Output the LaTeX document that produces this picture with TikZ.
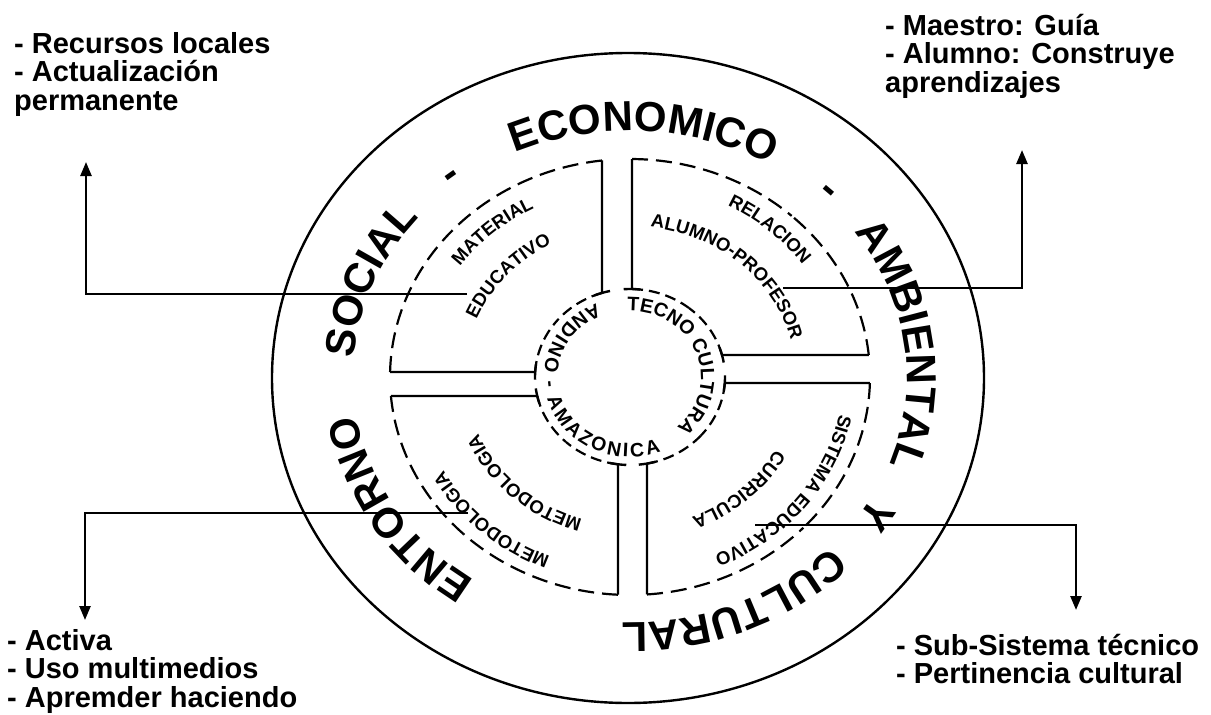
\documentclass[tikz,border=0pt]{standalone}
\usepackage{fontspec}
\setmainfont{Liberation Sans}
\usetikzlibrary{arrows.meta, calc, decorations.text}

\newcommand{\ringfont}{\bfseries\fontsize{42}{42}\selectfont}
\newcommand{\quadfont}{\bfseries\fontsize{18.5}{18.5}\selectfont}
\newcommand{\corefont}{\bfseries\fontsize{19.5}{19.5}\selectfont}
\newcommand{\notefont}{\bfseries\fontsize{29}{28.5}\selectfont}

% a word set along an elliptic arc round (ctr): [alignment] mid angle, half span, x radius, y radius, text
\newcommand{\arcword}[6][center]{%
  \pgfmathsetmacro\wordS{#2+#3}%
  \pgfmathsetmacro\wordE{#2-#3}%
  \path[decorate, decoration={text along path, text align={#1}, text={#6}}]
    ($(ctr)+(\wordS:#4 and #5)$) arc[start angle=\wordS, end angle=\wordE, x radius=#4, y radius=#5];%
}

\begin{document}
\begin{tikzpicture}[x=1pt, y=1pt,
    rim/.style={line width=2.4pt},
    ringline/.style={line width=2.2pt, dash pattern=on 16pt off 8pt},
    coreline/.style={line width=2.2pt, dash pattern=on 11pt off 6pt},
    wall/.style={line width=2.4pt},
    conn/.style={line width=2.5pt, -{Triangle[length=14pt, width=11pt]}},
    note/.style={font=\notefont, align=left, inner sep=0pt, anchor=north west}]

    \useasboundingbox (0,0) rectangle (1211,-715);

    % Centres
    \coordinate (ctr) at (630,-377);
    \coordinate (rimc) at (628,-378);

    % The outer rim
    \draw[rim] (rimc) ellipse [x radius=356pt, y radius=325pt];

    % Dashed rings, each piece drawn from its walls towards its middle
    \foreach \sa/\ea in {5.79/89.52, 96.70/178.69, 185.0/267.13, 274.06/358.42}{
        \pgfmathsetmacro\midang{(\sa+\ea)/2}
        \draw[ringline] ($(ctr)+(\sa:240pt and 218pt)$) arc[start angle=\sa, end angle=\midang, x radius=240pt, y radius=218pt];
        \draw[ringline] ($(ctr)+(\ea:240pt and 218pt)$) arc[start angle=\ea, end angle=\midang, x radius=240pt, y radius=218pt];
    }
    \foreach \sa/\ea in {14.48/88.79, 107.14/176.74, 192.47/262.74, 280.31/356.09}{
        \pgfmathsetmacro\midang{(\sa+\ea)/2}
        \draw[coreline] ($(ctr)+(\sa:95pt and 88pt)$) arc[start angle=\sa, end angle=\midang, x radius=95pt, y radius=88pt];
        \draw[coreline] ($(ctr)+(\ea:95pt and 88pt)$) arc[start angle=\ea, end angle=\midang, x radius=95pt, y radius=88pt];
    }

    % Walls of the four channels
    \foreach \ti/\tm in {107.14/96.70, 88.79/89.52, 14.48/5.79, -3.91/-1.58, 262.74/267.13, 280.31/274.06, 176.74/178.69, 192.47/185.0}{
        \pgfmathsetmacro\tickA{\ti-5}
        \pgfmathsetmacro\tickB{\ti+5}
        \draw[wall] ($(ctr)+(\ti:95pt and 88pt)$) -- ($(ctr)+(\tm:240pt and 218pt)$);
        \draw[wall] ($(ctr)+(\tickA:95pt and 88pt)$) arc[start angle=\tickA, end angle=\tickB, x radius=95pt, y radius=88pt];
    }

    % Words round the rim
    \arcword{211.5}{40}{277pt}{246pt}{|\ringfont|ENTORNO}
    \arcword{158.3}{40}{277pt}{246pt}{|\ringfont|SOCIAL}
    \arcword{129}{20}{277pt}{246pt}{|\ringfont|-}
    \arcword{87}{40}{277pt}{246pt}{|\ringfont|ECONOMICO}
    \arcword{45.8}{20}{277pt}{246pt}{|\ringfont|-}
    \arcword{7.5}{40}{277pt}{246pt}{|\ringfont|AMBIENTAL}
    \arcword{-31.6}{20}{277pt}{246pt}{|\ringfont|Y}
    \arcword{-67}{40}{277pt}{246pt}{|\ringfont|CULTURAL}

    % Quadrants
    \arcword{131.6}{35}{209pt}{190pt}{|\quadfont|MATERIAL}
    \arcword{138.9}{45}{166pt}{151pt}{|\quadfont|EDUCATIVO}
    \arcword{48.3}{35}{212pt}{193pt}{|\quadfont|RELACION}
    \arcword{47.4}{60}{166pt}{151pt}{|\quadfont|ALUMNO-PROFESOR}
    \arcword{227.6}{40}{213pt}{194pt}{|\quadfont|METODOLOGIA}
    \arcword{226.8}{45}{164pt}{149pt}{|\quadfont|METODOLOGIA}
    \arcword{-38.1}{45}{213pt}{194pt}{|\quadfont|SISTEMA EDUCATIVO}
    \arcword{-47.7}{40}{166pt}{151pt}{|\quadfont|CURRICULA}

    % Core
    \arcword{21.5}{85}{71pt}{66pt}{|\corefont|TECNO CULTURA}
    \arcword[fit to path]{202}{-89}{86pt}{80pt}{|\corefont|ANDINO - AMAZONICA}

    % Notes
    \node[note] (recursos) at (14,-32.2) {- Recursos locales\\- Actualización\\permanente};
    \node[note] (maestro) at (885,-14) {- Maestro: Guía\\- Alumno: Construye\\aprendizajes};
    \node[note] (activa) at (7,-629.2) {- Activa\\- Uso multimedios\\- Apremder haciendo};
    \node[note] (subsis) at (896,-634) {- Sub-Sistema técnico\\- Pertinencia cultural};

    % Arrows to the notes
    \coordinate (recFrom) at (467,-294);
    \coordinate (recTip) at (86,-162);
    \draw[conn] (recFrom) -| (recTip);
    \coordinate (maeFrom) at (783,-288);
    \coordinate (maeTip) at (1022,-150);
    \draw[conn] (maeFrom) -| (maeTip);
    \coordinate (actFrom) at (468,-513);
    \coordinate (actTip) at (85,-620);
    \draw[conn] (actFrom) -| (actTip);
    \coordinate (subFrom) at (755,-525);
    \coordinate (subTip) at (1076,-610);
    \draw[conn] (subFrom) -| (subTip);
\end{tikzpicture}
\end{document}
